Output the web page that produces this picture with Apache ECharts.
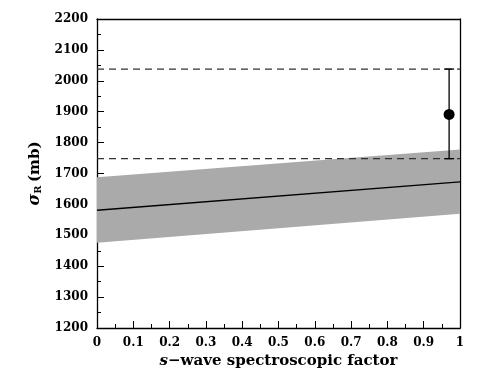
<!DOCTYPE html>
<html style="height: 100%">
<head>
    <meta charset="utf-8">
    <title>Reaction cross section</title>
</head>
<body style="margin: 0">
<div id="container" style="width: 485px; height: 388px"></div>

<script src="https://cdn.jsdelivr.net/npm/echarts@6/dist/echarts.min.js" type="text/javascript"></script>

<script type="text/javascript">
    // band and central line (endpoints at s = 0 and s = 1)
    var specFactor = [0, 1];
    var bandLow = [1476, 1570];
    var bandHigh = [1688, 1778];
    var central = [1581, 1673];

    // measured value with its error range
    var measX = 0.97;
    var measY = 1891;
    var measLow = 1748;
    var measHigh = 2038;

    var xTicks = [0, 0.1, 0.2, 0.3, 0.4, 0.5, 0.6, 0.7, 0.8, 0.9, 1];
    var yTicks = [1200, 1300, 1400, 1500, 1600, 1700, 1800, 1900, 2000, 2100, 2200];

    var font = 'DejaVu Serif';
    var dom = document.getElementById("container");
    var myChart = echarts.init(dom);

    // band polygon: low edge forward, high edge backward
    var bandData = specFactor.map(function (x, i) { return [x, bandLow[i], bandHigh[i]]; });
    var lineData = specFactor.map(function (x, i) { return [x, central[i]]; });

    var labelStyle = {color: '#000', fontFamily: font, fontWeight: 'bold', fontSize: 12};

    var option = {
        animation: false,
        grid: {left: 97, right: 25, top: 19, bottom: 60, show: false},
        xAxis: [{
            type: 'value', min: xTicks[0], max: xTicks[xTicks.length - 1], interval: 0.1,
            axisLine: {lineStyle: {color: '#000', width: 1.3}},
            axisTick: {inside: true, length: 7, lineStyle: {color: '#000'}},
            minorTick: {show: true, splitNumber: 2, length: 4, lineStyle: {color: '#000'}},
            splitLine: {show: false},
            axisLabel: Object.assign({margin: 9, formatter: function (v) { return String(+v.toFixed(1)); }}, labelStyle),
            name: '{i|s}{n|\u2212wave spectroscopic factor}',
            nameLocation: 'middle', nameGap: 23,
            nameTextStyle: {rich: {
                i: {fontFamily: font, fontStyle: 'italic', fontWeight: 'bold', fontSize: 15, color: '#000'},
                n: {fontFamily: font, fontWeight: 'bold', fontSize: 15, color: '#000'}
            }}
        }, {
            type: 'value', position: 'top', min: 0, max: 1,
            axisLine: {show: true, onZero: false, lineStyle: {color: '#000', width: 1.3}},
            axisTick: {show: false}, axisLabel: {show: false}, splitLine: {show: false}
        }],
        yAxis: [{
            type: 'value', min: yTicks[0], max: yTicks[yTicks.length - 1], interval: 100,
            axisLine: {show: true, lineStyle: {color: '#000', width: 1.3}},
            axisTick: {inside: true, length: 7, lineStyle: {color: '#000'}},
            minorTick: {show: true, splitNumber: 2, length: 4, lineStyle: {color: '#000'}},
            splitLine: {show: false},
            axisLabel: Object.assign({margin: 9, formatter: function (v) { return String(v); }}, labelStyle),
            name: '{s|\u03c3}{r|R} {n|(mb)}',
            nameLocation: 'middle', nameGap: 52, nameRotate: 90,
            nameTextStyle: {rich: {
                s: {fontFamily: font, fontStyle: 'italic', fontWeight: 'bold', fontSize: 16, color: '#000'},
                r: {fontFamily: font, fontWeight: 'bold', fontSize: 10, color: '#000', verticalAlign: 'bottom', padding: [7, 0, 0, 0]},
                n: {fontFamily: font, fontWeight: 'bold', fontSize: 15, color: '#000'}
            }}
        }, {
            type: 'value', position: 'right', min: 1200, max: 2200,
            axisLine: {show: true, onZero: false, lineStyle: {color: '#000', width: 1.3}},
            axisTick: {show: false}, axisLabel: {show: false}, splitLine: {show: false}
        }],
        series: [
            {
                type: 'custom', z: 1,
                data: bandData,
                renderItem: function (params, api) {
                    if (params.dataIndex !== 0) return;
                    var lowPts = [], highPts = [];
                    for (var i = 0; i < bandData.length; i++) {
                        lowPts.push(api.coord([bandData[i][0], bandData[i][1]]));
                        highPts.unshift(api.coord([bandData[i][0], bandData[i][2]]));
                    }
                    return {
                        type: 'polygon',
                        shape: {points: lowPts.concat(highPts)},
                        style: {fill: '#aaaaaa'}
                    };
                }
            },
            {
                type: 'line', data: lineData, symbol: 'none',
                lineStyle: {color: '#000', width: 1.3}, z: 3
            },
            {
                type: 'line', data: [[0, measHigh], [1, measHigh]], symbol: 'none',
                lineStyle: {color: '#333', width: 1.3, type: [7, 5]}, z: 3
            },
            {
                type: 'line', data: [[0, measLow], [1, measLow]], symbol: 'none',
                lineStyle: {color: '#333', width: 1.3, type: [7, 5]}, z: 3
            },
            {
                type: 'custom', z: 4,
                data: [[measX, measLow, measHigh]],
                renderItem: function (params, api) {
                    var lo = api.coord([api.value(0), api.value(1)]);
                    var hi = api.coord([api.value(0), api.value(2)]);
                    var cap = 5;
                    var st = {stroke: '#000', lineWidth: 1.3};
                    return {
                        type: 'group', children: [
                            {type: 'line', shape: {x1: lo[0], y1: lo[1], x2: hi[0], y2: hi[1]}, style: st},
                            {type: 'line', shape: {x1: lo[0] - cap, y1: lo[1], x2: lo[0] + cap, y2: lo[1]}, style: st},
                            {type: 'line', shape: {x1: hi[0] - cap, y1: hi[1], x2: hi[0] + cap, y2: hi[1]}, style: st}
                        ]
                    };
                }
            },
            {
                type: 'scatter', data: [[measX, measY]], symbol: 'circle', symbolSize: 11,
                itemStyle: {color: '#000', opacity: 1}, z: 5
            }
        ]
    };

    myChart.setOption(option);
</script>
</body>
</html>
